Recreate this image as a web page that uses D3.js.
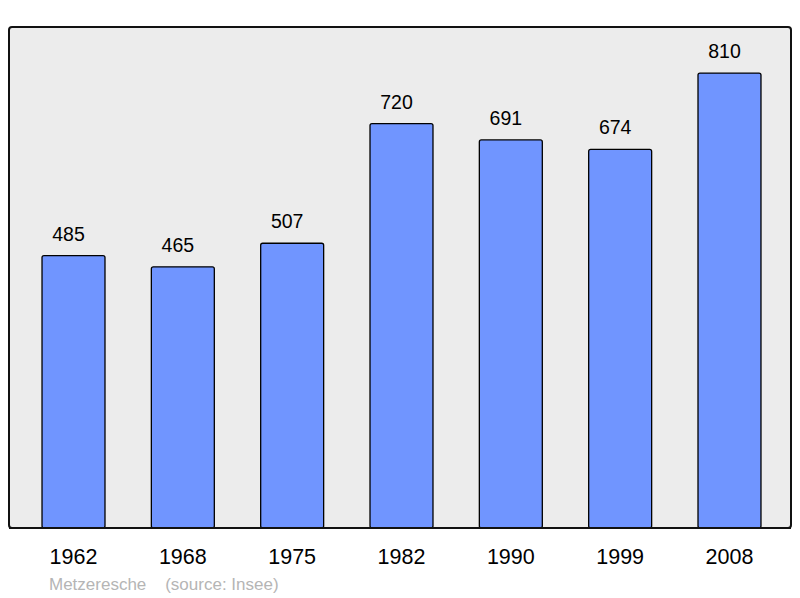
<!DOCTYPE html>
<html><head><meta charset="utf-8">
<script src="https://cdn.jsdelivr.net/npm/d3@7"></script>
<style>body{margin:0;background:#fff}svg{display:block}text{font-family:"Liberation Sans",Arial,sans-serif}</style>
</head><body>
<script>
const years = ["1962","1968","1975","1982","1990","1999","2008"];
const population = [485,465,507,720,691,674,810];
const commune = "Metzeresche";
const source = "(source: Insee)";

const W = 800, H = 598;
const svg = d3.select("body").append("svg").attr("width", W).attr("height", H);

const frame = {x: 9, y: 27, w: 782, h: 501};
svg.append("rect").attr("x", frame.x).attr("y", frame.y).attr("width", frame.w).attr("height", frame.h)
  .attr("rx", 3).attr("fill", "#ececec").attr("stroke", "#111").attr("stroke-width", 2);

const x = d3.scaleBand().domain(years).range([9, 794]).paddingInner(0.424).paddingOuter(0.302);
const y = d3.scaleLinear().domain([0, 892]).range([528, 27]);

const data = years.map((yr, i) => ({yr, v: population[i]}));

svg.selectAll("rect.bar").data(data).enter().append("rect").attr("class", "bar")
  .attr("x", d => x(d.yr)).attr("y", d => y(d.v))
  .attr("width", x.bandwidth()).attr("height", d => y(0) - y(d.v))
  .attr("rx", 2).attr("fill", "#7095ff").attr("stroke", "#000").attr("stroke-width", 1.3);

svg.selectAll("text.val").data(data).enter().append("text").attr("class", "val")
  .attr("x", d => x(d.yr) + x.bandwidth() / 2 - 5).attr("y", d => y(d.v) - 15)
  .attr("text-anchor", "middle").attr("font-size", 19.5).attr("fill", "#000").text(d => d.v);

svg.append("line").attr("x1", frame.x).attr("x2", frame.x + frame.w).attr("y1", 528).attr("y2", 528)
  .attr("stroke", "#111").attr("stroke-width", 2);

const xAxis = d3.axisBottom(x).tickSize(0).tickPadding(0);
const g = svg.append("g").attr("transform", "translate(0,528)").call(xAxis);
g.select(".domain").remove();
g.selectAll("text").attr("font-size", 21.5).attr("fill", "#000").attr("dy", null).attr("y", 35.5)
  .style("font-family", '"Liberation Sans",Arial,sans-serif');

svg.append("text").attr("x", 49).attr("y", 590).attr("font-size", 17).attr("fill", "#b5b5b5")
  .attr("xml:space", "preserve").text(commune + "    " + source);
</script>
</body></html>
